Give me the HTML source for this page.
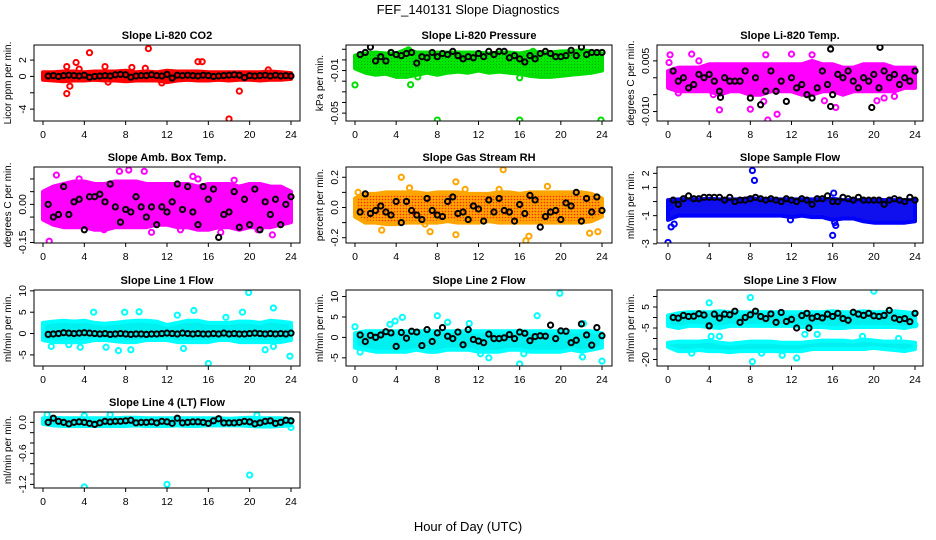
<!DOCTYPE html>
<html><head><meta charset="utf-8"><style>
body{margin:0;background:#fff;}
svg{display:block;font-family:"Liberation Sans",sans-serif;}
</style></head><body>
<svg id="chart" width="936" height="540" viewBox="0 0 936 540">
<defs>
<pattern id="rhpat" width="3" height="3" patternUnits="userSpaceOnUse"><rect width="3" height="3" fill="#FFA500"/><circle cx="1.5" cy="1.5" r="0.8" fill="#ff2a00"/></pattern>
<pattern id="grpat" width="3" height="3" patternUnits="userSpaceOnUse"><rect width="3" height="3" fill="#00e600"/><circle cx="1.5" cy="1.5" r="0.5" fill="#009900"/></pattern>
</defs>
<text x="468" y="14" text-anchor="middle" font-size="13">FEF_140131  Slope Diagnostics</text>
<text x="468" y="531" text-anchor="middle" font-size="13">Hour of Day (UTC)</text>
</svg>
<script>
const blackHours = [0.5,1,1.5,2,2.5,3,3.5,4,4.5,5,5.5,6,6.5,7,7.5,8,8.5,9,9.5,10,10.5,11,11.5,12,12.5,13,13.5,14,14.5,15,15.5,16,16.5,17,17.5,18,18.5,19,19.5,20,20.5,21,21.5,22,22.5,23,23.5,24];
const bandHours = [0,1,2,3,4,5,6,7,8,9,10,11,12,13,14,15,16,17,18,19,20,21,22,23,24];

const co2Black = [0.05,0.1,0.0,0.1,0.15,0.1,0.05,0.15,-0.1,0.0,0.05,0.1,0.05,0.2,0.25,0.2,-0.1,0.05,0.1,0.1,0.2,0.1,0.05,0.25,-0.2,0.15,0.1,0.15,0.1,0.05,0.15,0.1,0.0,0.05,0.1,0.15,0.2,0.15,-0.15,0.1,0.05,0.1,0.15,0.05,0.15,0.05,0.1,0.05];
const co2Lo = [-0.4,-0.5,-0.6,-0.5,-0.5,-0.4,-0.5,-0.5,-0.6,-0.5,-0.5,-0.5,-0.7,-0.5,-0.4,-0.5,-0.5,-0.4,-0.5,-0.4,-0.4,-0.5,-0.4,-0.4,-0.3];
const co2Hi = [0.5,0.5,0.6,0.6,0.5,0.6,0.6,0.6,0.7,0.5,0.6,0.5,0.7,0.6,0.6,0.6,0.5,0.5,0.5,0.5,0.5,0.5,0.6,0.5,0.4];
const co2Out = [[4.5,2.9],[10.2,3.4],[2.3,-2.1],[19,-1.8],[18,-5.2],[2.3,1.2],[3.2,1.7],[15,1.8],[15.4,1.8],[8.6,1.1],[6,1.2],[2.6,-1.2],[21.8,0.8],[6.3,-0.7],[11.5,-0.8],[3.5,0.9],[9.9,1.0]];

const presBlack = [0.005,0.007,0.012,-0.001,0.003,-0.001,0.007,0.005,0.004,0.006,0.007,-0.003,0.003,0.002,0.007,0.003,0.006,0.005,0.008,0.004,0.001,0.003,0.002,0.006,0.003,0.008,0.005,0.008,0.008,0.002,0.004,0.001,-0.002,0.004,0.001,0.006,0.008,0.006,0.003,0.003,0.004,0.009,0.004,0.012,0.005,0.007,0.007,0.007];
const presLo = [-0.008,-0.012,-0.014,-0.013,-0.016,-0.016,-0.014,-0.012,-0.014,-0.012,-0.011,-0.012,-0.010,-0.012,-0.011,-0.012,-0.013,-0.015,-0.016,-0.016,-0.015,-0.014,-0.013,-0.012,-0.010];
const presHi = [0.004,0.006,0.007,0.006,0.006,0.010,0.007,0.007,0.007,0.007,0.007,0.007,0.007,0.006,0.007,0.007,0.006,0.008,0.007,0.007,0.008,0.008,0.009,0.008,0.006];
const presOut = [[0,-0.0235],[5.4,-0.0233],[8,-0.0565],[16,-0.0565],[23.9,-0.0565],[5.2,0.0095],[17.3,0.008],[16,-0.0168],[8,-0.012],[2,-0.012],[6.1,-0.016]];

const tempBlack = [0.002,-0.001,0,-0.003,-0.002,0.001,0,0.001,-0.001,-0.004,0,-0.001,-0.001,-0.001,0.002,-0.006,0,-0.008,-0.004,0.002,-0.004,-0.001,-0.007,0,-0.003,-0.002,-0.005,-0.006,-0.003,0.002,-0.002,-0.005,0.001,0,0.002,-0.001,-0.003,0,-0.001,0.001,-0.003,0.002,0,0.001,-0.002,0,-0.001,0.002];
const tempBlackOut = [[15.8,0.0085],[20.6,0.009],[15.8,-0.0085],[19.8,-0.0088],[5.1,-0.0058]];
const tempLo = [-0.003,-0.004,-0.004,-0.004,-0.004,-0.005,-0.004,-0.004,-0.005,-0.005,-0.004,-0.004,-0.004,-0.005,-0.005,-0.004,-0.004,-0.005,-0.004,-0.004,-0.004,-0.004,-0.004,-0.003,-0.003];
const tempHi = [0.002,0.003,0.003,0.003,0.004,0.004,0.004,0.004,0.004,0.004,0.004,0.004,0.004,0.004,0.005,0.004,0.004,0.003,0.003,0.004,0.004,0.004,0.003,0.003,0.003];
const tempOut = [[0.2,0.0068],[2.3,0.007],[9.5,0.0068],[9.7,-0.0125],[5,-0.0095],[8,-0.0093],[10.6,-0.0108],[16.3,-0.0088],[20.3,-0.0068],[15.2,-0.0068],[12,0.007],[14,0.0068],[4.4,-0.005],[9.3,-0.007],[21,-0.006],[0.1,0.0045],[3,0.005],[22,-0.0055],[1,-0.0045]];

const ambBlack = [0,-0.05,-0.04,0.07,-0.04,0.01,0.02,-0.1,0.03,0.03,0.04,0.01,0.08,-0.01,-0.07,-0.02,-0.03,0.03,-0.01,-0.05,-0.01,-0.08,-0.01,-0.03,0.01,0.08,-0.02,0.07,-0.03,-0.08,0.07,0.02,0.06,-0.13,-0.04,-0.03,0.05,-0.09,0.02,-0.08,0.06,-0.1,0.01,-0.04,0.02,-0.08,0,0.03];
const ambLo = [-0.06,-0.08,-0.09,-0.09,-0.09,-0.1,-0.1,-0.09,-0.09,-0.09,-0.09,-0.08,-0.08,-0.09,-0.09,-0.1,-0.1,-0.09,-0.09,-0.1,-0.09,-0.09,-0.09,-0.08,-0.07];
const ambHi = [0.05,0.07,0.08,0.09,0.09,0.08,0.08,0.09,0.09,0.09,0.08,0.08,0.08,0.08,0.08,0.07,0.08,0.08,0.08,0.07,0.08,0.08,0.07,0.07,0.05];
const ambOut = [[0.6,-0.145],[8.3,0.135],[9.8,0.13],[7.4,0.13],[1.3,0.115],[15,0.1],[14.5,0.11],[22.2,-0.12],[17.2,-0.11],[5.9,-0.1],[20.8,-0.1],[18.5,0.095],[0.2,-0.05],[3.5,0.1],[10.5,-0.11],[13.3,-0.1]];

const rhBlack = [-0.03,0.09,-0.04,-0.02,0.01,-0.03,-0.05,0.04,-0.1,0.04,-0.02,-0.05,-0.08,0.06,-0.02,-0.05,-0.06,0.04,0.07,-0.04,-0.03,-0.08,0.01,-0.01,-0.09,0.05,-0.03,0.06,-0.02,-0.03,-0.09,0.02,-0.04,0.08,0.05,-0.13,-0.06,-0.03,-0.02,-0.08,0.03,0.01,0.1,-0.09,0.06,-0.03,0.07,-0.02];
const rhLo = [-0.06,-0.1,-0.1,-0.11,-0.11,-0.1,-0.1,-0.1,-0.1,-0.09,-0.1,-0.1,-0.1,-0.09,-0.1,-0.1,-0.1,-0.1,-0.1,-0.1,-0.1,-0.1,-0.1,-0.09,-0.06];
const rhHi = [0.06,0.09,0.09,0.1,0.1,0.1,0.1,0.09,0.1,0.1,0.1,0.09,0.09,0.09,0.1,0.1,0.09,0.1,0.1,0.1,0.1,0.1,0.1,0.09,0.06];
const rhOut = [[4.5,0.2],[14.4,0.25],[16.6,-0.22],[16.9,-0.19],[9.8,-0.18],[2.6,-0.15],[7.3,-0.16],[9.8,0.17],[23.6,-0.16],[22.8,-0.17],[18.7,0.14],[14,0.12],[5.3,0.13],[0.3,0.1],[10.7,0.12],[6.8,-0.11]];

const flowBlack = [0.1,-0.2,0.2,0.4,0.2,0.2,0.3,0.3,0.3,0.3,0.1,0.3,0,0.1,0.1,0.2,0.3,0.2,0.1,0.2,0.1,0,0.2,0.1,0,0.2,0.1,-0.2,0.2,0.2,0.4,0,0,0.3,0.2,0.1,0.3,0.1,0.1,0.1,0.1,-0.2,0.1,0.2,0.1,0,0.3,0.1];
const flowLo = [-1.3,-1.0,-1.0,-1.0,-1.0,-1.0,-1.0,-1.0,-1.0,-1.0,-1.0,-1.0,-1.1,-1.0,-1.1,-1.1,-1.3,-1.2,-1.2,-1.4,-1.5,-1.5,-1.5,-1.5,-1.4];
const flowHi = [0.1,0.15,0.15,0.15,0.2,0.15,0.15,0.15,0.25,0.15,0.15,0.15,0.15,0.15,0.15,0.15,0.2,0.1,0.1,0.1,0.15,0.1,0.1,0.1,0.1];
const flowOut = [[0,-2.9],[8.2,2.2],[8.4,1.5],[16,-2.4],[16.1,0.6],[0.3,-1.8],[0.6,-1.6],[11.9,-1.3],[16.3,-1.7],[16.2,-1.5],[0.2,-0.4]];

const l1Black = [-0.2,-0.1,0,0.2,0.1,0,0.1,0.2,0.1,0,-0.1,0,-0.2,-0.1,0,-0.1,-0.2,-0.1,-0.1,-0.2,-0.1,-0.1,0,0.1,0,-0.1,0.1,0,-0.1,0,-0.1,-0.1,0,-0.1,0.1,-0.1,0,-0.1,-0.1,0,0.1,0,-0.1,0,-0.1,0,-0.1,0.1];
const l1Lo = [-1.5,-2,-2,-2,-2,-1.5,-1.5,-1.8,-2,-2,-1.5,-1.5,-1.5,-2,-2,-2,-2,-1.5,-1.5,-2,-2,-2,-2,-2,-1.5];
const l1Hi = [2.5,2.8,3,2.8,3,2.5,2.3,2.5,2.8,3,3,2.8,2,2.5,3,3,2.5,2.5,2.5,2.8,2.8,2.5,3,2.8,2.5];
const l1Out = [[19.9,9.6],[22.3,6],[14.6,5.4],[9.3,5.1],[7.9,5],[4.9,5],[19.3,5],[16,-7],[23.9,-5.3],[7.3,-4],[6.1,-3.2],[21.5,-3.8],[3.6,-3.2],[13.6,-3.5],[8.5,-3.8],[13,4.3],[17.7,3.8],[0.8,-3],[2.5,-2.6],[22.3,-3]];

const l2Black = [0.6,-1,0.5,0,0.6,1.4,1.1,-2.2,1.2,-0.2,1.5,1.3,-2,1.9,-1,1.1,2.4,0.3,-0.3,1.3,-1.8,1.9,-0.5,-0.9,-1.3,0.8,-0.3,-0.3,-0.1,0.7,-0.3,1.3,1,-0.8,0.2,0.4,0.3,3,-0.3,1.6,1.5,-1.3,-0.7,3.3,0.6,-1.9,2.4,0.4];
const l2Lo = [-2.5,-3,-3.5,-3.5,-3.5,-3.5,-3,-3.5,-3.5,-3,-3,-3,-3.5,-3.5,-3.5,-3,-3,-3.5,-3.5,-3.5,-3.5,-3,-3.5,-3,-2.5];
const l2Hi = [1,1.5,1.5,1.5,1.5,1.5,1.5,1.5,1.5,1.5,1.5,1.5,1.5,1.5,1.5,1.5,1.5,1.5,1.5,1.5,1.5,1.5,1.5,1.5,1];
const l2Out = [[19.9,10.8],[8,5.3],[17.7,5.3],[4.6,4.9],[3.9,4],[16,-6.5],[24,-5.8],[13,-5],[22.1,-4.8],[0,2.6],[12.2,-4],[16.4,-4],[22.2,3.4],[11.1,3.4],[0.5,-3.6],[3.4,3.2],[9,3.7]];

const l3Black = [0,-0.3,1,0.5,0.6,1.8,1.2,-4,1.6,-0.3,1.6,1.3,3,-2.3,0,1.3,3,0.5,-0.5,1.7,-2.3,2.4,-1.9,-0.9,-5,0.9,2,-0.3,0.5,-0.2,1.6,0.5,2,-0.5,-1.3,2.5,1.6,1,2,0.8,0.5,1,3.4,-0.3,-1,-0.5,-2,2];
const l3Black2 = [[4,-4],[13.7,-5]];
const l3UpLo = [-4,-5,-4,-4,-4.5,-5,-4,-4,-4,-4,-4,-4,-4,-4.5,-4.5,-4.5,-5,-5,-4.5,-4.5,-4.5,-4.5,-4.5,-5,-4];
const l3UpHi = [1,2,2.5,2.5,2.5,3,2.5,2.5,2.5,2.5,2.5,2.5,2.5,2.5,2.5,2.5,3,2.5,2.5,3,2.5,2.5,3,2.5,2];
const l3LowLo = [-14,-16,-16,-15.5,-16,-16,-16.5,-16,-16,-16,-16,-16,-16,-16,-15,-15,-15,-15,-15,-15,-14.5,-15,-15.5,-16,-15];
const l3LowHi = [-12,-11.5,-11.5,-11.5,-11,-12,-12.5,-12,-11.5,-11.5,-11.5,-12,-12,-12,-11.5,-11,-11,-11,-11.5,-10.5,-11,-11.5,-11.5,-11.5,-12];
const l3Out = [[20,12.5],[8,9.5],[4,7],[8.2,-21],[12.5,-19.3],[4.2,-9],[5,-9],[13.3,-8],[18.9,-9],[24,-3.5],[22.4,-10],[14.5,-8],[2.3,-17],[9.1,-17],[11.1,-18]];

const l4Black = [0,0.08,0.02,0,-0.03,0,0.01,0,-0.02,-0.04,-0.01,0.02,0.01,0.02,0.02,0.03,0.04,-0.01,0,0,0.01,-0.01,0.02,0.01,-0.02,0.08,-0.01,0,0.01,0.01,0,-0.02,0.03,0.07,-0.01,-0.01,-0.01,0,0.02,0.01,-0.03,-0.01,0.02,0.03,-0.02,0,0.04,0.03];
const l4Lo = [-0.03,-0.06,-0.07,-0.07,-0.07,-0.07,-0.07,-0.07,-0.07,-0.06,-0.07,-0.07,-0.07,-0.06,-0.07,-0.07,-0.06,-0.06,-0.06,-0.06,-0.07,-0.08,-0.08,-0.07,-0.06];
const l4Hi = [0.08,0.09,0.08,0.08,0.08,0.08,0.08,0.08,0.09,0.09,0.08,0.08,0.08,0.08,0.08,0.08,0.08,0.08,0.07,0.08,0.09,0.08,0.08,0.08,0.06];
const l4Out = [[4,-1.25],[12,-1.2],[20,-1.02],[0.4,0.15],[20.7,0.14],[24,-0.1],[4,0.13],[6.5,0.15]];

const xTicks = [0,4,8,12,16,20,24];

const cols = [{l:34,r:300,x0:43,x24:291},{l:346,r:612,x0:355,x24:602},{l:657,r:923,x0:668,x24:915}];
const rows = [45,167,290,412];
const H = 76;
const panels = [
 {name:'co2',title:'Slope Li-820 CO2',ylab:'Licor ppm per min.',c:0,r:0,yT:3.84,yB:-5.45,ticks:[2,0,-2,-4],labels:['2','0','','-4'],color:'#ff0000',fill:'#ff0000',black:co2Black,bands:[[co2Lo,co2Hi]],out:co2Out},
 {name:'pressure',title:'Slope Li-820 Pressure',ylab:'kPa per min.',c:1,r:0,yT:0.014,yB:-0.0574,ticks:[0.01,0,-0.01,-0.02,-0.03,-0.04,-0.05],labels:['','','-0.01','','','','-0.05'],color:'#00dd00',fill:'url(#grpat)',black:presBlack,bands:[[presLo,presHi]],out:presOut},
 {name:'temp',title:'Slope Li-820 Temp.',ylab:'degrees C per min.',c:2,r:0,yT:0.0097,yB:-0.0128,ticks:[0.005,0,-0.005,-0.01],labels:['0.005','','','-0.010'],color:'#ff00ff',fill:'#ff00ff',black:tempBlack,blackOut:tempBlackOut,bands:[[tempLo,tempHi]],out:tempOut},
 {name:'amb-box-temp',title:'Slope Amb. Box Temp.',ylab:'degrees C per min.',c:0,r:1,yT:0.147,yB:-0.152,ticks:[0.1,0.05,0,-0.05,-0.1,-0.15],labels:['','','0.00','','','-0.15'],color:'#ff00ff',fill:'#ff00ff',black:ambBlack,bands:[[ambLo,ambHi]],out:ambOut},
 {name:'gas-stream-rh',title:'Slope Gas Stream RH',ylab:'percent per min.',c:1,r:1,yT:0.268,yB:-0.235,ticks:[0.2,0.1,0,-0.1,-0.2],labels:['0.2','','0.0','','-0.2'],color:'#ffa500',fill:'url(#rhpat)',black:rhBlack,bands:[[rhLo,rhHi]],out:rhOut},
 {name:'sample-flow',title:'Slope Sample Flow',ylab:'ml/min per min.',c:2,r:1,yT:2.45,yB:-2.94,ticks:[2,1,0,-1,-2,-3],labels:['2','1','','-1','','-3'],color:'#0000ff',fill:'#1010ee',black:flowBlack,bands:[[flowLo,flowHi]],out:flowOut},
 {name:'line1-flow',title:'Slope Line 1 Flow',ylab:'ml/min per min.',c:0,r:2,yT:10.2,yB:-7.6,ticks:[10,5,0,-5],labels:['10','5','0','-5'],color:'#00ffff',fill:'#00f0f0',black:l1Black,bands:[[l1Lo,l1Hi]],out:l1Out},
 {name:'line2-flow',title:'Slope Line 2 Flow',ylab:'ml/min per min.',c:1,r:2,yT:11.6,yB:-7.0,ticks:[10,5,0,-5],labels:['10','5','0','-5'],color:'#00ffff',fill:'#00f0f0',black:l2Black,bands:[[l2Lo,l2Hi]],out:l2Out},
 {name:'line3-flow',title:'Slope Line 3 Flow',ylab:'ml/min per min.',c:2,r:2,yT:13.1,yB:-23.1,ticks:[10,5,0,-5,-10,-15,-20],labels:['','5','','-5','','','-20'],color:'#00ffff',fill:'#00f0f0',black:l3Black,blackOut:l3Black2,bands:[[l3UpLo,l3UpHi],[l3LowLo,l3LowHi]],out:l3Out},
 {name:'line4-flow',title:'Slope Line 4 (LT) Flow',ylab:'ml/min per min.',c:0,r:3,yT:0.2,yB:-1.27,ticks:[0,-0.2,-0.4,-0.6,-0.8,-1,-1.2],labels:['0.0','','','-0.6','','','-1.2'],color:'#00ffff',fill:'#00f0f0',black:l4Black,bands:[[l4Lo,l4Hi]],out:l4Out}
];

const NS='http://www.w3.org/2000/svg';
const svg=document.getElementById('chart');
function mk(tag,attrs,parent){const e=document.createElementNS(NS,tag);for(const k in attrs)e.setAttribute(k,attrs[k]);(parent||svg).appendChild(e);return e;}

panels.forEach(p=>{
  const col=cols[p.c], top=rows[p.r], bot=top+H;
  const xs=h=>col.x0+(col.x24-col.x0)*h/24;
  const ys=v=>top+(p.yT-v)/(p.yT-p.yB)*H;
  const g=mk('g',{});
  
  
  const clipId='clip-'+p.name;
  const cp=mk('clipPath',{id:clipId},g);
  mk('rect',{x:col.l,y:top,width:col.r-col.l,height:H},cp);
  const plot=mk('g',{'clip-path':'url(#'+clipId+')'},g);
  
  
  p.bands.forEach(([lo,hi])=>{
    let d='';
    bandHours.forEach((h,i)=>{d+=(i?'L':'M')+xs(h).toFixed(1)+' '+ys(hi[i]).toFixed(1);});
    for(let i=bandHours.length-1;i>=0;i--) d+='L'+xs(bandHours[i]).toFixed(1)+' '+ys(lo[i]).toFixed(1);
    d+='Z';
    const b=mk('path',{d:d,fill:p.fill,stroke:p.color,'stroke-width':4,'stroke-linejoin':'round'},plot);
    
    
  });
  p.out.forEach(([h,v])=>{
    const c=mk('circle',{cx:xs(h),cy:ys(v),r:2.6,fill:'none',stroke:p.color,'stroke-width':2},plot);
    
    
  });
  const bl=blackHours.map((h,i)=>[h,p.black[i]]).concat(p.blackOut||[]);
  bl.forEach(([h,v])=>{
    const c=mk('circle',{cx:xs(h),cy:ys(v),r:2.6,fill:'none',stroke:'#000','stroke-width':2},plot);
    
    
  });
  const box=mk('rect',{x:col.l,y:top,width:col.r-col.l,height:H,fill:'none',stroke:'#000','stroke-width':1},g);
  
  
  const t=mk('text',{x:(col.l+col.r)/2,y:top-6,'text-anchor':'middle','font-size':11,'font-weight':'bold'},g);
  t.textContent=p.title;
  
  
  mk('line',{x1:xs(0),x2:xs(24),y1:bot,y2:bot,stroke:'#000'},g);
  xTicks.forEach(h=>{
    mk('line',{x1:xs(h),x2:xs(h),y1:bot,y2:bot+4,stroke:'#000'},g);
    const lt=mk('text',{x:xs(h),y:bot+17,'text-anchor':'middle','font-size':10.5},g);
    lt.textContent=h;
    
    
  });
  p.ticks.forEach((v,i)=>{
    const y=ys(v);
    mk('line',{x1:col.l-4,x2:col.l,y1:y,y2:y,stroke:'#000'},g);
    if(p.labels[i]){
      const lt=mk('text',{x:0,y:0,'text-anchor':'middle','font-size':10.5,transform:'translate('+(col.l-8)+','+y+') rotate(-90)'},g);
      lt.textContent=p.labels[i];
      
      
    }
  });
  const yl=mk('text',{x:0,y:0,'text-anchor':'middle','font-size':10,transform:'translate('+(col.l-23)+','+(top+H/2)+') rotate(-90)'},g);
  yl.textContent=p.ylab;
  
  
});
</script>
</body></html>
